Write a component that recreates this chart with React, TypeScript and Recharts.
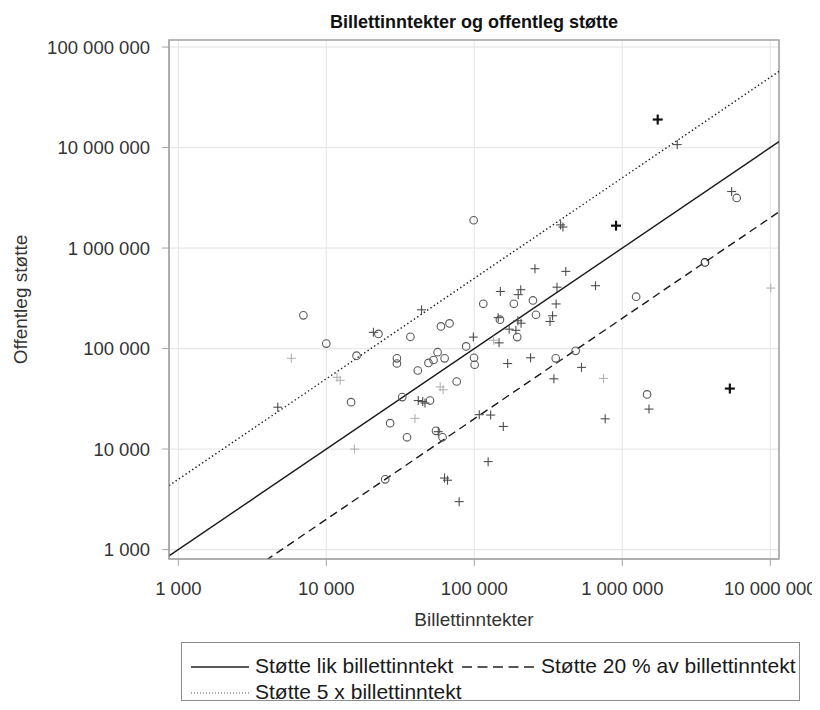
import React from 'react';
import {
  ScatterChart,
  Scatter,
  XAxis,
  YAxis,
  CartesianGrid,
  ReferenceLine,
  ReferenceArea,
  Label,
} from 'recharts';

// [billettinntekter, offentleg støtte]
const circles: [number, number][] = [
  [7000, 214000], [10000, 112000], [16000, 85000], [22500, 140000], [37000, 131000],
  [30000, 80000], [30000, 71000], [41500, 60500], [49000, 72000], [53000, 77000],
  [56500, 92000], [59500, 166000], [68000, 178000], [63000, 80000], [88000, 105000],
  [99500, 81000], [100500, 69000], [76000, 47000], [14700, 29300], [32600, 32900],
  [50200, 30400], [27000, 18100], [35100, 13100], [55100, 15200], [61000, 13100],
  [25000, 5000], [115000, 279000], [185000, 279000], [249000, 301000], [261000, 217000],
  [149000, 194000], [195000, 130000], [355000, 80000], [484000, 95000], [1240000, 328000],
  [1470000, 35000], [5930000, 3150000], [99000, 1890000],
];
const darkCircles: [number, number][] = [[3620000, 720000]];

const pluses: [number, number][] = [
  [4700, 26100], [20800, 145000], [44000, 243000], [98500, 130000], [41800, 30400],
  [44800, 29700], [46400, 28700], [57100, 14900], [62900, 5150], [65900, 4900],
  [79000, 3000], [124000, 7500], [108000, 22000], [129000, 21800], [157000, 16800],
  [147000, 114000], [145000, 203000], [150000, 370000], [206000, 385000], [198000, 344000],
  [362000, 408000], [659000, 422000], [357000, 278000], [338000, 212000], [325000, 186000],
  [197000, 189000], [207000, 179000], [172000, 156000], [191000, 152000], [168000, 71000],
  [240000, 81000], [530000, 65000], [345000, 50000], [766000, 20000], [1515000, 25000],
  [257000, 623000], [415000, 586000], [383000, 1700000], [397000, 1620000],
  [2350000, 10700000], [5480000, 3650000],
];
const lightPluses: [number, number][] = [
  [5800, 80000], [11800, 51800], [12400, 48300], [58800, 41600], [61600, 38900],
  [39700, 20200], [15500, 10000], [135000, 121000], [746000, 50500], [10060000, 400000],
];
const boldPluses: [number, number][] = [
  [1735000, 19000000], [907000, 1670000], [5330000, 40000],
];

const xTicks = [1000, 10000, 100000, 1000000, 10000000];
const yTicks = [1000, 10000, 100000, 1000000, 10000000, 100000000];
const xDomain = [865, 11450000];
const yDomain = [806, 117500000];

// støtte = ratio * billettinntekt
const lineRatios = [1, 0.2, 5];
const lineDash = [undefined, '8 5', '1.4 2.6'];

const FONT = '"Liberation Sans", Arial, Helvetica, sans-serif';

const toPts = (arr: [number, number][]) => arr.map(([x, y]) => ({ x, y }));
const fmt = (v: number) => String(v).replace(/\B(?=(\d{3})+(?!\d))/g, ' ');

const plusShape = (color: string, arm: number, width: number) => (p: any) => (
  <g>
    <line x1={p.cx - arm} x2={p.cx + arm} y1={p.cy} y2={p.cy} stroke={color} strokeWidth={width} />
    <line x1={p.cx} x2={p.cx} y1={p.cy - arm} y2={p.cy + arm} stroke={color} strokeWidth={width} />
  </g>
);
const circleShape = (color: string) => (p: any) => (
  <circle cx={p.cx} cy={p.cy} r={3.8} fill="none" stroke={color} strokeWidth={1.1} />
);

const LegendSample = ({ dash, w = 58, color = '#222', width = 1.5 }: { dash?: string; w?: number; color?: string; width?: number }) => (
  <svg width={w} height={6} style={{ position: 'absolute', top: 11 }}>
    <line x1={0} x2={w} y1={3} y2={3} stroke={color} strokeWidth={width} strokeDasharray={dash} />
  </svg>
);

export default function App() {
  return (
    <div style={{ position: 'relative', width: 812, height: 694, fontFamily: FONT }}>
      <div
        style={{
          position: 'absolute', left: 161, top: 5, width: 610, textAlign: 'center',
          fontWeight: 'bold', fontSize: 18, lineHeight: '18px', color: '#111',
        }}
      >
        Billettinntekter og offentleg støtte
      </div>
      <ScatterChart width={812} height={630} margin={{ top: 32, right: 41, bottom: 9, left: 0 }}>
        <CartesianGrid stroke="#e8e8e8" strokeWidth={1.2} />
        <XAxis
          type="number" dataKey="x" scale="log" domain={xDomain} allowDataOverflow
          ticks={xTicks} interval={0} tickFormatter={fmt} tickSize={7} tickMargin={16}
          tick={{ fill: '#333', fontSize: 18.5 }} stroke="#a6a6a6" height={70}
        >
          <Label value="Billettinntekter" position="insideBottom" offset={3} fill="#333" fontSize={19} />
        </XAxis>
        <YAxis
          type="number" dataKey="y" scale="log" domain={yDomain} allowDataOverflow
          ticks={yTicks} interval={0} tickFormatter={fmt} tickSize={7} tickMargin={12}
          tick={{ fill: '#333', fontSize: 18.5 }} stroke="#a6a6a6" width={161}
        >
          <Label
            value="Offentleg støtte" angle={-90} position="insideLeft" offset={12}
            fill="#333" fontSize={19} style={{ textAnchor: 'middle' }}
          />
        </YAxis>
        <ReferenceArea
          x1={xDomain[0]} x2={xDomain[1]} y1={yDomain[0]} y2={yDomain[1]}
          fill="none" stroke="#a6a6a6" strokeWidth={1.6} fillOpacity={0} ifOverflow="visible"
        />
        {lineRatios.map((r, i) => (
          <ReferenceLine
            key={i}
            segment={[{ x: xDomain[0], y: r * xDomain[0] }, { x: xDomain[1], y: r * xDomain[1] }]}
            stroke="#1a1a1a" strokeWidth={1.4} strokeDasharray={lineDash[i]} ifOverflow="hidden"
          />
        ))}
        <Scatter data={toPts(lightPluses)} shape={plusShape('#b3b3b3', 4.5, 1.1)} isAnimationActive={false} />
        <Scatter data={toPts(circles)} shape={circleShape('#595959')} isAnimationActive={false} />
        <Scatter data={toPts(darkCircles)} shape={circleShape('#222')} isAnimationActive={false} />
        <Scatter data={toPts(pluses)} shape={plusShape('#4d4d4d', 4.5, 1.1)} isAnimationActive={false} />
        <Scatter data={toPts(boldPluses)} shape={plusShape('#111', 5, 2.2)} isAnimationActive={false} />
      </ScatterChart>
      <div
        style={{
          position: 'absolute', left: 173, top: 634, width: 617, height: 57,
          border: '1.5px solid #8c8c8c', fontSize: 21, color: '#1a1a1a', lineHeight: '26px',
        }}
      >
        <div style={{ position: 'absolute', top: 10, left: 0, width: '100%', height: 26 }}>
          <div style={{ position: 'absolute', left: 9 }}><LegendSample /></div>
          <span style={{ position: 'absolute', left: 73, whiteSpace: 'nowrap' }}>Støtte lik billettinntekt</span>
          <div style={{ position: 'absolute', left: 280 }}><LegendSample dash="10 5.5" w={74} /></div>
          <span style={{ position: 'absolute', left: 359, whiteSpace: 'nowrap' }}>Støtte 20 % av billettinntekt</span>
        </div>
        <div style={{ position: 'absolute', top: 36, left: 0, width: '100%', height: 26 }}>
          <div style={{ position: 'absolute', left: 9 }}><LegendSample dash="1 2" color="#555" width={1} /></div>
          <span style={{ position: 'absolute', left: 73, whiteSpace: 'nowrap' }}>Støtte 5 x billettinntekt</span>
        </div>
      </div>
    </div>
  );
}
